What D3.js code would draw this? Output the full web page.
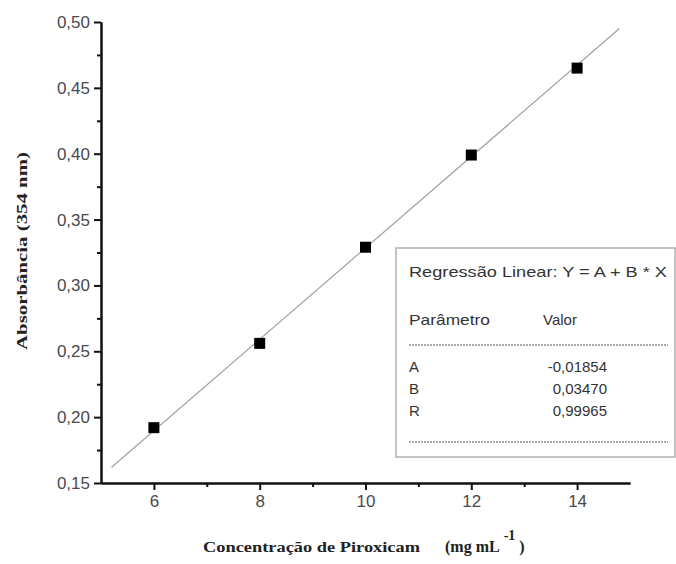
<!DOCTYPE html>
<html>
<head>
<meta charset="utf-8">
<script src="https://cdn.jsdelivr.net/npm/d3@7"></script>
<style>
  html, body { margin: 0; padding: 0; background: #fff; }
  svg { display: block; }
</style>
</head>
<body>
<div id="chart"></div>
<script>
// data
const concentracao = [6, 8, 10, 12, 14];
const absorbancia  = [0.192, 0.256, 0.329, 0.399, 0.465];

// fit line (from the legend) and the x range it is drawn over
const fitA = -0.01854, fitB = 0.03470;
const fitRange = [5.2, 14.8];

const xTicks = [6, 8, 10, 12, 14];
const xMinor = [7, 9, 11, 13];
const yTicks = [0.15, 0.20, 0.25, 0.30, 0.35, 0.40, 0.45, 0.50];
const yMinor = [0.175, 0.225, 0.275, 0.325, 0.375, 0.425, 0.475];

const legendTitle = 'Regressão Linear: Y = A + B * X';
const legendHead  = ['Parâmetro', 'Valor'];
const paramNames  = ['A', 'B', 'R'];
const paramValues = ['-0,01854', '0,03470', '0,99965'];

const W = 676, H = 564;
const SANS = '"Liberation Sans", Arial, sans-serif';
const SERIF = '"Liberation Serif", "Times New Roman", serif';

const svg = d3.select('#chart').append('svg')
    .attr('width', W).attr('height', H);

const x = d3.scaleLinear().domain([5, 15]).range([101, 630]);
const y = d3.scaleLinear().domain([0.15, 0.50]).range([483, 22]);

const comma = d => d3.format('.2f')(d).replace('.', ',');

const styleAxis = sel => {
    sel.select('.domain').attr('stroke', '#111').attr('stroke-width', 2);
    sel.selectAll('.tick line').attr('stroke', '#111').attr('stroke-width', 2);
    sel.selectAll('.tick text')
        .attr('fill', '#4a4a4a')
        .style('font-family', SANS)
        .style('font-size', '17px');
};

// minor ticks first, majors + domain on top
svg.append('g').attr('transform', 'translate(0,483)')
    .call(d3.axisBottom(x).tickValues(xMinor).tickSize(4).tickSizeOuter(0).tickFormat(''))
    .call(styleAxis);
svg.append('g').attr('transform', 'translate(101,0)')
    .call(d3.axisLeft(y).tickValues(yMinor).tickSize(4).tickSizeOuter(0).tickFormat(''))
    .call(styleAxis);

svg.append('g').attr('transform', 'translate(0,483)')
    .call(d3.axisBottom(x).tickValues(xTicks).tickSize(7).tickSizeOuter(0).tickPadding(5))
    .call(styleAxis);
svg.append('g').attr('transform', 'translate(101,0)')
    .call(d3.axisLeft(y).tickValues(yTicks).tickSize(7).tickSizeOuter(0).tickPadding(4).tickFormat(comma))
    .call(styleAxis);

// regression line
svg.append('path')
    .datum(fitRange)
    .attr('fill', 'none')
    .attr('stroke', '#a0a0a0')
    .attr('stroke-width', 1.2)
    .attr('d', d3.line().x(d => x(d)).y(d => y(fitA + fitB * d)));

// measured points
const pts = concentracao.map((c, i) => ({ c, a: absorbancia[i] }));
svg.append('g').selectAll('rect')
    .data(pts)
    .join('rect')
    .attr('x', d => x(d.c) - 5.5)
    .attr('y', d => y(d.a) - 5.5)
    .attr('width', 11).attr('height', 11)
    .attr('fill', '#000');

// legend box
const lg = svg.append('g');
lg.append('rect')
    .attr('x', 396).attr('y', 248)
    .attr('width', 279).attr('height', 209)
    .attr('fill', '#fff')
    .attr('stroke', '#b0b0b0').attr('stroke-width', 1.5);

const lgText = (tx, ty, s, anchor = 'start') => lg.append('text')
    .attr('x', tx).attr('y', ty)
    .attr('text-anchor', anchor)
    .attr('fill', '#333')
    .style('font-family', SANS)
    .style('font-size', '15px')
    .text(s);

lgText(409, 277, legendTitle).attr('textLength', 258).attr('lengthAdjust', 'spacingAndGlyphs');
lgText(409, 325, legendHead[0]).attr('textLength', 81).attr('lengthAdjust', 'spacingAndGlyphs');
lgText(543, 325, legendHead[1]);

[345, 442].forEach(ly => lg.append('line')
    .attr('x1', 409).attr('x2', 668)
    .attr('y1', ly).attr('y2', ly)
    .attr('stroke', '#555').attr('stroke-width', 1)
    .attr('stroke-dasharray', '2,1'));

paramNames.forEach((p, i) => {
    const ty = 372 + i * 22;
    lgText(409, ty, p);
    lgText(607, ty, paramValues[i], 'end');
});

// axis titles
svg.append('text')
    .attr('transform', 'translate(27,251) rotate(-90)')
    .attr('text-anchor', 'middle')
    .attr('textLength', 198)
    .attr('lengthAdjust', 'spacingAndGlyphs')
    .style('font-family', SERIF)
    .style('font-weight', 'bold')
    .style('font-size', '14px')
    .attr('fill', '#222')
    .text('Absorbância (354 nm)');

svg.append('text')
    .attr('x', 203).attr('y', 552)
    .attr('textLength', 217)
    .attr('lengthAdjust', 'spacingAndGlyphs')
    .style('font-family', SERIF)
    .style('font-weight', 'bold')
    .style('font-size', '15px')
    .attr('fill', '#222')
    .text('Concentração de Piroxicam');

const unit = svg.append('text')
    .attr('x', 445).attr('y', 552)
    .style('font-family', SERIF)
    .style('font-weight', 'bold')
    .style('font-size', '16px')
    .attr('fill', '#222');
unit.append('tspan').text('(mg mL');
unit.append('tspan').attr('dx', 4).attr('dy', -12).style('font-size', '14px').text('-1');
unit.append('tspan').attr('dx', 4).attr('dy', 12).text(')');
</script>
</body>
</html>
